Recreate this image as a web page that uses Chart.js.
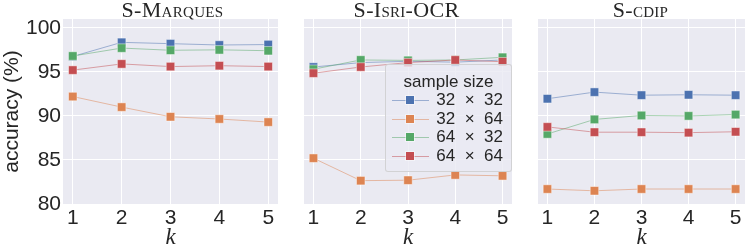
<!DOCTYPE html>
<html>
<head>
<meta charset="utf-8">
<script src="https://cdn.jsdelivr.net/npm/chart.js@4"></script>
<style>
  body { margin: 0; background: #fff; }
  #wrap { position: relative; width: 752px; height: 252px; overflow: hidden; }
  #wrap canvas { position: absolute; top: 0; }
  .ptitle { position: absolute; top: -3px; width: 219px; text-align: center;
            font-family: 'Liberation Serif', serif; font-variant: small-caps;
            font-size: 22px; color: #262626; line-height: 26px; letter-spacing: 0.3px; }
  #legend { position: absolute; left: 385px; top: 64px; width: 127px; height: 108px;
            box-sizing: border-box; background: rgba(234,234,242,0.8);
            border: 1px solid rgba(204,204,204,0.8); border-radius: 3px;
            font-family: 'Liberation Sans', sans-serif; color: #262626; }
  #legend .lt { position: absolute; left: 0; width: 125px; top: 7px; text-align: center; font-size: 17px; line-height: 20px; }
  #legend .row { position: absolute; left: 0; width: 125px; height: 18px; }
  #legend .ln { position: absolute; left: 6px; width: 37px; top: 9px; height: 1px; }
  #legend .mk { position: absolute; left: 20px; top: 5px; width: 8px; height: 8px; }
  #legend .tx { position: absolute; right: 8px; top: -1px; font-size: 17px; line-height: 20px; white-space: pre; }
</style>
</head>
<body>
<div id="wrap">
  <canvas id="c1" width="285" height="252" style="left:0px"></canvas>
  <canvas id="c2" width="222" height="252" style="left:297px"></canvas>
  <canvas id="c3" width="221" height="252" style="left:531px"></canvas>
  <div class="ptitle" id="t1" style="left:63px"></div>
  <div class="ptitle" id="t2" style="left:297px"></div>
  <div class="ptitle" id="t3" style="left:531px"></div>
  <div id="legend"></div>
</div>
<script>
// values
const kValues = [1, 2, 3, 4, 5];
const yTicks = [80, 85, 90, 95, 100];
const seriesNames = ['32 × 32', '32 × 64', '64 × 32', '64 × 64'];
const panelTitles = ['S-Marques', 'S-Isri-OCR', 'S-cdip'];
const legendTitle = 'sample size';

const marques32x32 = [96.75, 98.35, 98.2, 98.05, 98.1];
const marques32x64 = [92.2, 91.0, 89.9, 89.65, 89.3];
const marques64x32 = [96.8, 97.7, 97.45, 97.5, 97.4];
const marques64x64 = [95.2, 95.9, 95.6, 95.7, 95.6];

const isri32x32 = [95.55, 96.05, 96.2, 96.1, 96.35];
const isri32x64 = [85.2, 82.65, 82.7, 83.3, 83.2];
const isri64x32 = [95.3, 96.35, 96.3, 96.35, 96.65];
const isri64x64 = [94.85, 95.55, 96.05, 96.35, 96.15];

const cdip32x32 = [91.95, 92.7, 92.35, 92.4, 92.35];
const cdip32x64 = [81.7, 81.5, 81.7, 81.7, 81.7];
const cdip64x32 = [87.95, 89.6, 90.05, 90.0, 90.15];
const cdip64x64 = [88.75, 88.15, 88.15, 88.1, 88.2];

const colors = ['76,114,176', '221,132,82', '85,168,104', '196,78,82'];
const textColor = '#262626';

// plot area background
const bgPlugin = {
    id: 'plotBg',
    beforeDraw(chart) {
        const a = chart.chartArea;
        const ctx = chart.ctx;
        ctx.save();
        ctx.fillStyle = '#EAEAF2';
        ctx.fillRect(a.left, a.top, a.right - a.left, a.bottom - a.top);
        ctx.restore();
    }
};

function makePanel(id, series, showY, padRight) {
    const datasets = series.map((vals, i) => ({
        label: seriesNames[i],
        data: vals.map((v, j) => ({ x: kValues[j], y: v })),
        borderColor: 'rgba(' + colors[i] + ',0.5)',
        borderWidth: 1,
        backgroundColor: 'rgb(' + colors[i] + ')',
        pointStyle: 'rect',
        pointRadius: 6,
        pointBorderWidth: 1,
        pointBorderColor: 'rgba(255,255,255,0.45)',
        order: series.length - i,
    }));
    return new Chart(document.getElementById(id), {
        type: 'line',
        data: { datasets },
        options: {
            responsive: false,
            animation: false,
            devicePixelRatio: 1,
            layout: { padding: { top: 19, right: padRight, left: 0, bottom: 0 } },
            plugins: { legend: { display: false }, tooltip: { enabled: false } },
            scales: {
                x: {
                    type: 'linear', min: 0.8, max: 5.2,
                    afterBuildTicks: s => { s.ticks = kValues.map(v => ({ value: v })); },
                    afterFit: s => { s.height = 48; },
                    grid: { color: '#fff', lineWidth: 1, drawTicks: false },
                    border: { display: false },
                    ticks: { font: { family: 'Liberation Sans', size: 21 }, color: textColor, padding: 2 },
                    title: { display: true, text: 'k', color: textColor, padding: 0,
                             font: { family: 'Liberation Serif', size: 23, style: 'italic' } }
                },
                y: {
                    min: 80, max: 101,
                    afterBuildTicks: s => { s.ticks = yTicks.map(v => ({ value: v })); },
                    afterFit: s => { s.width = showY ? 63 : 0; },
                    grid: { color: '#fff', lineWidth: 1, drawTicks: false },
                    border: { display: false },
                    ticks: { display: showY, font: { family: 'Liberation Sans', size: 21 }, color: textColor, padding: 2 },
                    title: { display: showY, text: 'accuracy (%)', color: textColor, padding: 0,
                             font: { family: 'Liberation Sans', size: 21 } }
                }
            }
        },
        plugins: [bgPlugin]
    });
}

makePanel('c1', [marques32x32, marques32x64, marques64x32, marques64x64], true, 3);
makePanel('c2', [isri32x32, isri32x64, isri64x32, isri64x64], false, 3);
makePanel('c3', [cdip32x32, cdip32x64, cdip64x32, cdip64x64], false, 2);

panelTitles.forEach((t, i) => { document.getElementById('t' + (i + 1)).textContent = t; });

// legend inside the middle panel
const legend = document.getElementById('legend');
let html = '<div class="lt">' + legendTitle + '</div>';
seriesNames.forEach((name, i) => {
    html += '<div class="row" style="top:' + (26 + i * 18.5) + 'px">' +
        '<div class="ln" style="background:rgba(' + colors[i] + ',0.5)"></div>' +
        '<div class="mk" style="background:rgb(' + colors[i] + ');outline:1px solid rgba(255,255,255,0.45)"></div>' +
        '<div class="tx">' + name.replace(' × ', '  ×  ') + '</div></div>';
});
legend.innerHTML = html;
</script>
</body>
</html>
